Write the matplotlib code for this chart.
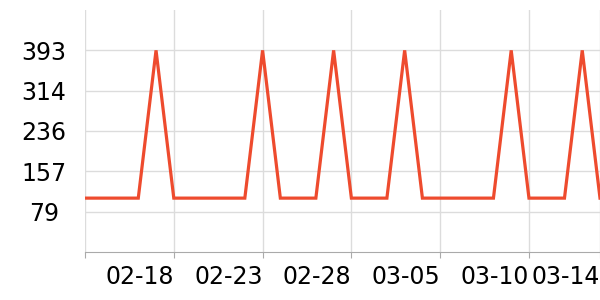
import numpy as np
import pandas as pd
import matplotlib.pyplot as plt
import matplotlib.dates as mdates

# daily counts, 02-13 .. 03-14
dates = pd.date_range("2023-02-13", "2023-03-14", freq="D")
values = [105, 105, 105, 105, 393, 105, 105, 105, 105, 105,
          393, 105, 105, 105, 393, 105, 105, 105, 393, 105,
          105, 105, 105, 105, 393, 105, 105, 105, 393, 105]
tick_dates = ["2023-02-13", "2023-02-18", "2023-02-23", "2023-02-28",
              "2023-03-05", "2023-03-10", "2023-03-14"]
tick_labels = ["", "02-18", "02-23", "02-28", "03-05", "03-10", "03-14"]
ystep = 393 / 5
yticks = [ystep * k for k in range(1, 6)]
ylabels = ["79", "157", "236", "314", "393"]

fig = plt.figure(figsize=(6, 3), dpi=100)
ax = fig.add_axes([85/600, 48/300, 515/600, 242/300])
ax.plot(dates, values, color="#ee4b2e", lw=2.3, solid_joinstyle="miter", zorder=3)

ax.set_xlim(dates[0], dates[-1])
ax.set_ylim(0, ystep * 6)
ax.set_xticks(pd.to_datetime(tick_dates))
ax.set_xticklabels(tick_labels, fontsize=17, ha="right")
ax.set_yticks(yticks)
ax.set_yticklabels(ylabels, fontsize=17, ha="center")

ax.grid(True, color="#dcdcdc", lw=1)
for s in ["top", "right", "left"]:
    ax.spines[s].set_visible(False)
ax.spines["bottom"].set_color("#aaaaaa")
ax.tick_params(axis="y", length=0, pad=29.5)
ax.tick_params(axis="x", length=4, color="#aaaaaa", pad=5)

plt.savefig("out.png", dpi=100)
